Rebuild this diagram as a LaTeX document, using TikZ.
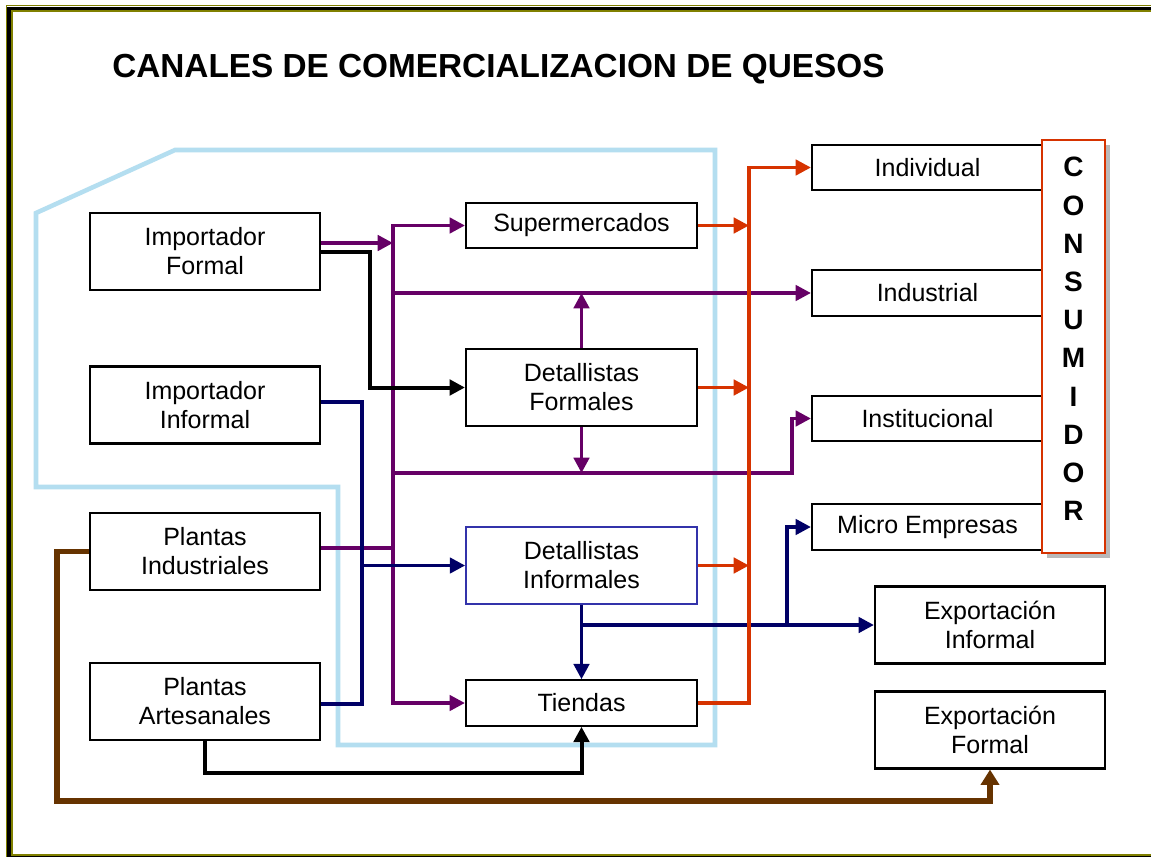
\documentclass[tikz,border=0pt]{standalone}
\usepackage{fontspec}
\setmainfont{Liberation Sans}
\usetikzlibrary{arrows.meta,calc}
\definecolor{pur}{RGB}{102,0,102}
\definecolor{nav}{RGB}{0,0,102}
\definecolor{rd}{RGB}{214,51,0}
\definecolor{brn}{RGB}{102,51,0}
\definecolor{olv}{RGB}{128,128,0}
\definecolor{lblue}{RGB}{180,222,240}
\definecolor{bluebd}{RGB}{51,51,170}
\definecolor{shad}{RGB}{185,185,185}
\tikzset{
  box/.style={draw=black, line width=1.6pt, fill=white, inner sep=0pt, align=center,
    font=\fontsize{18.75pt}{21.75pt}\selectfont},
  tall/.style={box, minimum width=172.5pt, minimum height=57.75pt},
  short/.style={box, minimum width=173.25pt, minimum height=34pt},
  conn/.style={line width=2.7pt, line join=miter, >={Triangle[length=11.5pt,width=11.5pt]}},
  pc/.style={conn, draw=pur},
  nv/.style={conn, draw=nav},
  rc/.style={conn, draw=rd},
  bk/.style={conn, draw=black, line width=3pt},
  bc/.style={conn, draw=brn, line width=4pt, >={Triangle[length=11.5pt,width=13.5pt]}},
  outline/.style={draw=lblue, line width=3.4pt},
}
\begin{document}
\begin{tikzpicture}[x=0.75pt,y=-0.75pt]
\useasboundingbox (0,0) rectangle (1151,856);
\clip (0,0) rectangle (1151,856);
\fill[white] (0,0) rectangle (1151,856);
% frame
\draw[olv, line width=0.9pt] (6.5,5.8) rectangle (1220,861);
\draw[black, line width=2.55pt] (9,8.3) rectangle (1217,858);
\draw[olv, line width=1.5pt] (11.8,11.2) rectangle (1214,855.3);
% title
\node[anchor=base west, inner sep=0pt, font=\bfseries\fontsize{25pt}{28pt}\selectfont] (title) at (112,77) {CANALES DE COMERCIALIZACION DE QUESOS};
% light blue outline
\draw[outline] (36,213) -- (175,150) -- (715,150) -- (715,745) -- (338,745) -- (338,487) -- (36,487) -- cycle;
% coordinates for buses
\coordinate (pb) at (393,0);
\coordinate (bj) at (370,0);
\coordinate (nb) at (362,0);
\coordinate (rb) at (749,0);
\coordinate (ij) at (792,473);
\coordinate (mj) at (787,625);
% nodes
\node[tall] (impF) at (205,251.5) {Importador\\Formal};
\node[tall] (impI) at (205,405) {Importador\\Informal};
\node[tall] (plI) at (205,551.5) {Plantas\\Industriales};
\node[tall] (plA) at (205,701.5) {Plantas\\Artesanales};
\node[short] (sup) at (581.5,225.5) {Supermercados};
\node[tall, minimum width=173.25pt] (detF) at (581.5,387.5) {Detallistas\\Formales};
\node[tall, minimum width=173.25pt, draw=bluebd, line width=1.3pt] (detI) at (581.5,565.5) {Detallistas\\Informales};
\node[short] (tie) at (581.5,703) {Tiendas};
\node[short] (indv) at (927.5,167.5) {Individual};
\node[short] (ind) at (927.5,293) {Industrial};
\node[short] (ins) at (927.5,418.5) {Institucional};
\node[short] (mic) at (927.5,527) {Micro Empresas};
\node[tall] (expI) at (990,625) {Exportación\\Informal};
\node[tall] (expF) at (990,730) {Exportación\\Formal};
% consumidor
\fill[shad] (1047,145) rectangle (1110,558);
\node[draw=rd, line width=1.5pt, fill=white, minimum width=47.25pt, minimum height=309.75pt, inner sep=0pt] (cons) at (1073.5,346.5) {};
\node[inner sep=0pt, align=center, font=\bfseries\fontsize{21pt}{28.65pt}\selectfont] (constext) at (1073.5,339) {C\\O\\N\\S\\U\\M\\I\\D\\O\\R};
% purple connectors
\draw[pc,->] (impF.east |- 0,243) -- (pb |- 0,243);
\draw[pc,<->] (sup.west) -| (pb |- tie.west) -- (tie.west);
\draw[pc,->] (pb |- ind.west) -- (ind.west);
\draw[pc,->] (detF.north) -- (detF.north |- ind.west);
\draw[pc,->] (pb |- ij) -- (ij) |- (ins.west);
\draw[pc,->] (detF.south) -- (detF.south |- ij);
\draw[pc] (plI.east |- 0,548) -- (pb |- 0,548);
% black connectors
\draw[bk,->] (impF.east |- 0,252) -| (bj |- detF.west) -- (detF.west);
\draw[bk,->] (plA.south) |- (tie.south |- 0,773) -- (tie.south);
% navy connectors
\draw[nv] (impI.east |- 0,402) -| (nb |- 0,704) -- (plA.east |- 0,704);
\draw[nv,->] (nb |- detI.west) -- (detI.west);
\draw[nv,->] (detI.south) -- (tie.north);
\draw[nv,->] (detI.south |- expI.west) -- (expI.west);
\draw[nv,->] (mj) |- (mic.west);
% red connectors
\draw[rc,->] (tie.east) -| (rb |- indv.west) -- (indv.west);
\draw[rc,->] (sup.east) -- (rb |- sup.east);
\draw[rc,->] (detF.east) -- (rb |- detF.east);
\draw[rc,->] (detI.east) -- (rb |- detI.east);
% brown connector
\draw[bc,->] (plI.west) -| (57,801) -| (expF.south);
\end{tikzpicture}
\end{document}
